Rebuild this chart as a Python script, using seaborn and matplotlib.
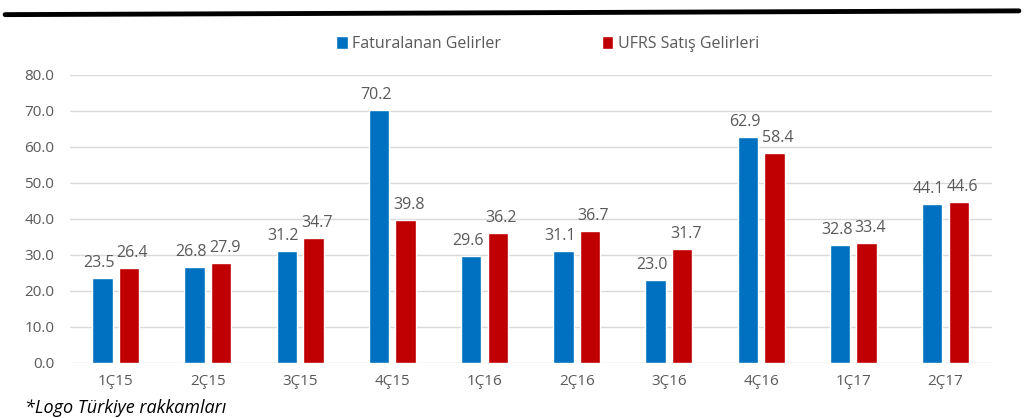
import pandas as pd
import matplotlib.pyplot as plt
import seaborn as sns
from matplotlib.lines import Line2D

quarters = ["1Ç15", "2Ç15", "3Ç15", "4Ç15", "1Ç16", "2Ç16", "3Ç16", "4Ç16", "1Ç17", "2Ç17"]
faturalanan = [23.5, 26.8, 31.2, 70.2, 29.6, 31.1, 23.0, 62.9, 32.8, 44.1]
ufrs = [26.4, 27.9, 34.7, 39.8, 36.2, 36.7, 31.7, 58.4, 33.4, 44.6]
series = ["Faturalanan Gelirler", "UFRS Satış Gelirleri"]

df = pd.DataFrame({
    "quarter": quarters * 2,
    "value": faturalanan + ufrs,
    "series": [series[0]] * len(quarters) + [series[1]] * len(quarters),
})

sns.set_style("white")
plt.rcParams["font.family"] = ["Open Sans", "DejaVu Sans"]

fig = plt.figure(figsize=(10.24, 4.18), dpi=100)
ax = fig.add_axes([0.068, 0.1316, 0.9004, 0.689])

palette = {series[0]: "#0070C0", series[1]: "#C00000"}
sns.barplot(data=df, x="quarter", y="value", hue="series", palette=palette,
            width=0.575, gap=0.23, ax=ax, saturation=1)

# labels above bars, nudged apart a little like Excel does
for cont, dx in zip(ax.containers, [-2.5, 2.5]):
    for bar in cont:
        h = bar.get_height()
        ax.annotate(f"{h:.1f}", (bar.get_x() + bar.get_width() / 2, h),
                    xytext=(dx, 5), textcoords="offset points",
                    ha="center", va="bottom", fontsize=11.5, color="#595959")

ax.set_ylim(0, 80)
ax.set_yticks(range(0, 81, 10))
ax.set_yticklabels([f"{v:.1f}" for v in range(0, 81, 10)])
ax.yaxis.grid(True, color="#d9d9d9", linewidth=1)
ax.set_axisbelow(True)
for s in ax.spines.values():
    s.set_visible(False)
ax.tick_params(axis="y", length=0, labelsize=11, labelcolor="#595959", pad=11)
ax.tick_params(axis="x", length=0, labelsize=11, labelcolor="#595959", pad=8)
ax.set_xlabel("")
ax.set_ylabel("")

ax.legend(loc="center", bbox_to_anchor=(0.535, 0.895), bbox_transform=fig.transFigure,
          ncol=2, frameon=False, fontsize=11.5, labelcolor="#595959",
          handlelength=0.7, handleheight=0.9, handletextpad=0.3, columnspacing=6.3)

fig.add_artist(Line2D([0.005, 0.995], [0.965, 0.974], color="black", linewidth=3.5,
                      transform=fig.transFigure))
fig.text(0.024, 0.002, "*Logo Türkiye rakkamları", fontsize=13, style="italic",
         color="black", va="bottom")

fig.savefig("out.png", dpi=100)
